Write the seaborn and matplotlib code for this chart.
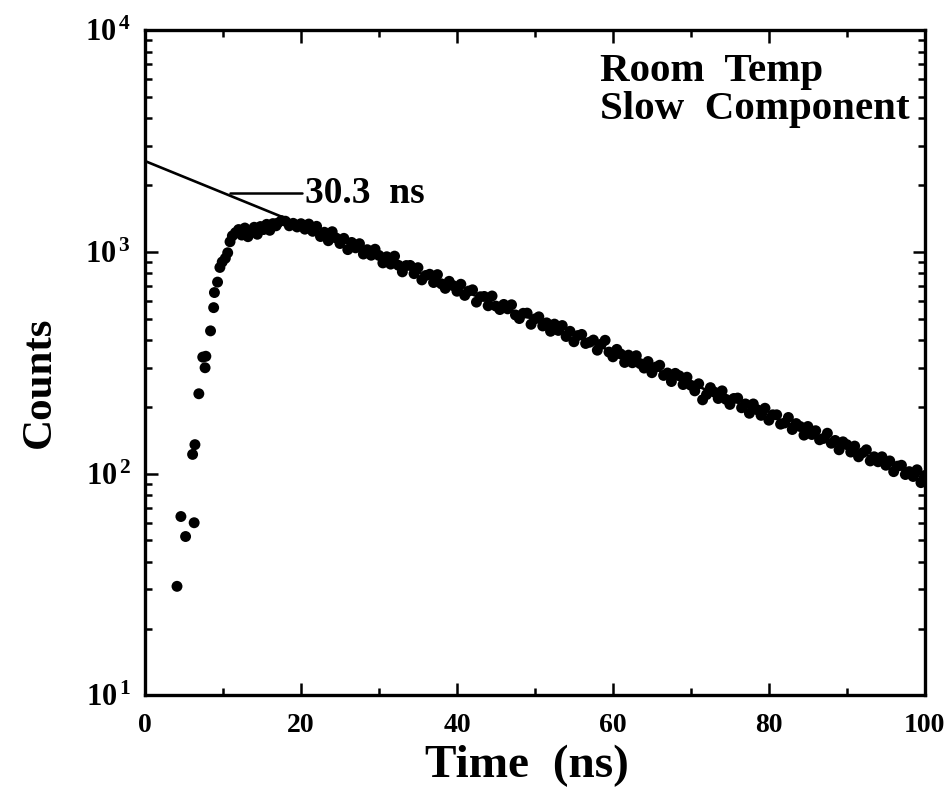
import numpy as np
import pandas as pd
import matplotlib
matplotlib.use("Agg")
import matplotlib.pyplot as plt
import seaborn as sns
from matplotlib.ticker import LogLocator, MultipleLocator, FixedLocator

# ---- data -----------------------------------------------------------------
# Rising edge and plateau of the decay curve
rise_time = [4.1, 4.6, 5.2, 6.3, 6.1, 6.4, 6.9, 7.4, 7.8, 7.7, 8.4, 8.8, 8.9,
             9.3, 9.6, 9.9, 10.3, 10.6, 10.9, 11.2, 11.6, 12.0, 12.4, 12.8,
             13.2, 13.6, 14.0, 14.4, 14.8, 15.2, 15.6, 16.0, 16.4, 16.8]
rise_counts = [31, 64, 52, 60, 122, 135, 229, 335, 338, 300, 440, 560, 655,
               730, 850, 900, 935, 990, 1110, 1180, 1220, 1260, 1190, 1280,
               1170, 1240, 1290, 1200, 1300, 1260, 1330, 1250, 1340, 1310]

# Exponential tail, 0.5 ns channels from 17 ns to 100 ns
tail_time = [
    17.0, 17.5, 18.0, 18.5, 19.0, 19.5, 20.0, 20.5, 21.0, 21.5, 22.0, 22.5,
    23.0, 23.5, 24.0, 24.5, 25.0, 25.5, 26.0, 26.5, 27.0, 27.5, 28.0, 28.5,
    29.0, 29.5, 30.0, 30.5, 31.0, 31.5, 32.0, 32.5, 33.0, 33.5, 34.0, 34.5,
    35.0, 35.5, 36.0, 36.5, 37.0, 37.5, 38.0, 38.5, 39.0, 39.5, 40.0, 40.5,
    41.0, 41.5, 42.0, 42.5, 43.0, 43.5, 44.0, 44.5, 45.0, 45.5, 46.0, 46.5,
    47.0, 47.5, 48.0, 48.5, 49.0, 49.5, 50.0, 50.5, 51.0, 51.5, 52.0, 52.5,
    53.0, 53.5, 54.0, 54.5, 55.0, 55.5, 56.0, 56.5, 57.0, 57.5, 58.0, 58.5,
    59.0, 59.5, 60.0, 60.5, 61.0, 61.5, 62.0, 62.5, 63.0, 63.5, 64.0, 64.5,
    65.0, 65.5, 66.0, 66.5, 67.0, 67.5, 68.0, 68.5, 69.0, 69.5, 70.0, 70.5,
    71.0, 71.5, 72.0, 72.5, 73.0, 73.5, 74.0, 74.5, 75.0, 75.5, 76.0, 76.5,
    77.0, 77.5, 78.0, 78.5, 79.0, 79.5, 80.0, 80.5, 81.0, 81.5, 82.0, 82.5,
    83.0, 83.5, 84.0, 84.5, 85.0, 85.5, 86.0, 86.5, 87.0, 87.5, 88.0, 88.5,
    89.0, 89.5, 90.0, 90.5, 91.0, 91.5, 92.0, 92.5, 93.0, 93.5, 94.0, 94.5,
    95.0, 95.5, 96.0, 96.5, 97.0, 97.5, 98.0, 98.5, 99.0, 99.5, 100.0]
tail_counts = [
    1347, 1382, 1374, 1310, 1344, 1294, 1339, 1265, 1334, 1237, 1303, 1172,
    1225, 1122, 1232, 1154, 1090, 1150, 1023, 1102, 1042, 1088, 977, 1022,
    965, 1027, 963, 891, 950, 880, 956, 869, 812, 867, 868, 797,
    848, 747, 782, 792, 727, 789, 717, 684, 736, 704, 664, 714,
    636, 665, 674, 593, 627, 629, 571, 632, 569, 549, 579, 553,
    577, 519, 500, 528, 529, 471, 498, 509, 463, 478, 438, 472,
    442, 465, 415, 438, 393, 419, 424, 386, 391, 400, 360, 383,
    399, 353, 336, 363, 346, 317, 342, 316, 340, 313, 299, 320,
    285, 302, 308, 277, 284, 260, 283, 276, 252, 272, 250, 236,
    254, 215, 227, 244, 233, 218, 236, 216, 205, 218, 219, 198,
    206, 187, 206, 194, 183, 197, 174, 184, 184, 167, 169, 179,
    158, 168, 163, 149, 163, 150, 156, 142, 144, 152, 137, 141,
    128, 139, 135, 125, 133, 119, 124, 128, 114, 119, 113, 119,
    109, 114, 102, 108, 109, 99, 102, 97, 104, 91, 98]

# Single-exponential fit of the slow component
fit_amplitude = 2566.0
fit_tau = 30.3
fit_label = "30.3  ns"

x_ticks = [0, 20, 40, 60, 80, 100]
y_ticks = [10, 100, 1000, 10000]

# ---- figure ---------------------------------------------------------------
sns.set_theme(style="ticks")
plt.rcParams["font.family"] = ["Liberation Serif", "DejaVu Serif"]
plt.rcParams["font.weight"] = "bold"
plt.rcParams["text.color"] = "black"
plt.rcParams["axes.labelcolor"] = "black"
plt.rcParams["xtick.color"] = "black"
plt.rcParams["ytick.color"] = "black"
plt.rcParams["mathtext.fontset"] = "custom"
plt.rcParams["mathtext.rm"] = "Liberation Serif:bold"
plt.rcParams["mathtext.bf"] = "Liberation Serif:bold"
plt.rcParams["mathtext.it"] = "Liberation Serif:bold"

fig = plt.figure(figsize=(9.51, 7.91), dpi=100)
ax = fig.add_axes([0.1525, 0.121, 0.82, 0.841])

points = pd.DataFrame({
    "time": rise_time + tail_time,
    "counts": rise_counts + tail_counts,
})
fit_t = np.linspace(0, 100, 201)
fit = pd.DataFrame({"time": fit_t,
                    "counts": fit_amplitude * np.exp(-fit_t / fit_tau)})

sns.lineplot(data=fit, x="time", y="counts", ax=ax, color="black",
             linewidth=1.9, zorder=2)
sns.scatterplot(data=points, x="time", y="counts", ax=ax, color="black",
                s=62, edgecolor="none", zorder=3)

ax.set_yscale("log")
ax.set_xlim(0, 100)
ax.set_ylim(10, 10000)

ax.xaxis.set_major_locator(FixedLocator(x_ticks))
ax.xaxis.set_minor_locator(MultipleLocator(10))
ax.yaxis.set_major_locator(FixedLocator(y_ticks))
ax.yaxis.set_minor_locator(LogLocator(base=10, subs=np.arange(2, 10)))
ax.set_xticklabels([str(v) for v in x_ticks], fontsize=20,
                   fontweight="bold")
ax.set_yticklabels([r"$10^{\,%d}$" % int(np.log10(v)) for v in y_ticks],
                   fontsize=22)
ax.tick_params(which="both", direction="in", top=True, right=True,
               width=1.8, color="black")
ax.tick_params(which="major", length=9)
ax.tick_params(axis="x", which="major", pad=13)
ax.tick_params(axis="y", which="major", pad=10)
ax.tick_params(which="minor", length=5)
for s in ax.spines.values():
    s.set_linewidth(2.4)
    s.set_color("black")

ax.set_xlabel("Time  (ns)", fontsize=34, fontweight="bold")
ax.set_ylabel("Counts", fontsize=31, fontweight="bold")
ax.xaxis.set_label_coords(0.49, -0.075)
ax.yaxis.set_label_coords(-0.11, 0.47)

# leader line and lifetime label
ax.plot([10.9, 20.1], [1835, 1835], color="black", linewidth=1.8, zorder=2)
ax.text(20.5, 1835, fit_label, fontsize=27, fontweight="bold",
        ha="left", va="center")

ax.text(58.3, 7900, "Room  Temp\nSlow  Component", fontsize=29.5,
        fontweight="bold", ha="left", va="top", linespacing=1.05)

fig.savefig("out.png", dpi=100)
